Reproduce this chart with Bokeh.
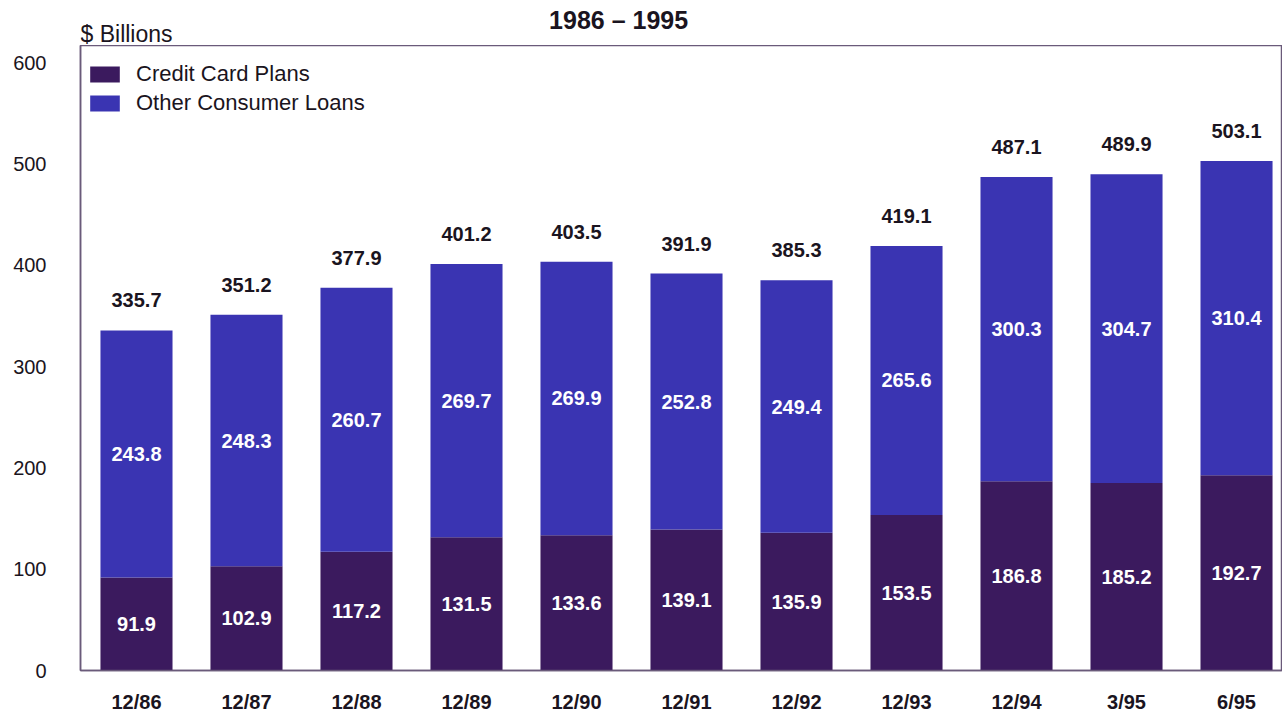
from bokeh.plotting import figure
from bokeh.layouts import column
from bokeh.models import ColumnDataSource, Range1d, FixedTicker, Legend, LegendItem
from bokeh.core.properties import value
from bokeh.embed import file_html
from bokeh.resources import INLINE

periods = ["12/86", "12/87", "12/88", "12/89", "12/90", "12/91", "12/92", "12/93", "12/94", "3/95", "6/95"]
credit_card = [91.9, 102.9, 117.2, 131.5, 133.6, 139.1, 135.9, 153.5, 186.8, 185.2, 192.7]
other_loans = [243.8, 248.3, 260.7, 269.7, 269.9, 252.8, 249.4, 265.6, 300.3, 304.7, 310.4]
totals = [335.7, 351.2, 377.9, 401.2, 403.5, 391.9, 385.3, 419.1, 487.1, 489.9, 503.1]
y_ticks = [0, 100, 200, 300, 400, 500, 600]
chart_title = "1986   \u2013   1995"
unit_label = "$ Billions"

FONT = "Liberation Sans"
PURPLE = "#3b1a5e"
BLUE = "#3a34b2"
INK = "#1a1420"
LINE = "#6a5a7a"

idx = list(range(len(periods)))
src = ColumnDataSource(dict(
    x=idx,
    credit=credit_card,
    other=other_loans,
    top=[c + o for c, o in zip(credit_card, other_loans)],
    credit_mid=[c / 2 for c in credit_card],
    other_mid=[c + o / 2 for c, o in zip(credit_card, other_loans)],
    total=totals,
    credit_lbl=[f"{v:.1f}" for v in credit_card],
    other_lbl=[f"{v:.1f}" for v in other_loans],
    total_lbl=[f"{v:.1f}" for v in totals],
))

x_range = Range1d(-0.509, 10.418)

# header strip (title + unit label)
head = figure(width=1282, height=45, output_backend="svg", toolbar_location=None,
              x_range=x_range, y_range=Range1d(0, 45),
              min_border_left=80, min_border_right=0, min_border_top=0, min_border_bottom=0)
head.axis.visible = False
head.grid.visible = False
head.outline_line_color = None
head.text(x=[-0.509], y=[12], text=[unit_label], text_font=value(FONT),
          text_font_size="23px", text_color=INK, text_baseline="alphabetic", text_align="left")
head.text(x=[4.509], y=[26], text=[chart_title], text_font=value(FONT),
          text_font_size="25px", text_font_style="bold", text_color=INK,
          text_baseline="alphabetic", text_align="center")

p = figure(width=1282, height=670, output_backend="svg", toolbar_location=None,
           x_range=x_range, y_range=Range1d(0, 617),
           min_border_left=80, min_border_right=0, min_border_top=0, min_border_bottom=43)
p.grid.visible = False
p.background_fill_color = "white"
p.border_fill_color = "white"
p.outline_line_color = LINE
p.outline_line_width = 1.5

r1 = p.vbar(x="x", bottom=0, top="credit", width=0.655, source=src,
            fill_color=PURPLE, line_color=None)
r2 = p.vbar(x="x", bottom="credit", top="top", width=0.655, source=src,
            fill_color=BLUE, line_color=None)

p.text(x="x", y="credit_mid", text="credit_lbl", source=src, text_align="center",
       text_baseline="middle", text_color="white", text_font=value(FONT),
       text_font_style="bold", text_font_size="20px")
p.text(x="x", y="other_mid", text="other_lbl", source=src, text_align="center",
       text_baseline="middle", text_color="white", text_font=value(FONT),
       text_font_style="bold", text_font_size="20px")
p.text(x="x", y="total", text="total_lbl", source=src, text_align="center",
       text_baseline="middle", y_offset=-30, text_color=INK, text_font=value(FONT),
       text_font_style="bold", text_font_size="20px")

# axes
p.xaxis.ticker = FixedTicker(ticks=idx)
p.xaxis.major_label_overrides = {i: s for i, s in zip(idx, periods)}
p.xaxis.major_tick_out = 0
p.xaxis.major_tick_in = 0
p.xaxis.minor_tick_line_color = None
p.xaxis.major_label_standoff = 20
p.xaxis.major_label_text_font = FONT
p.xaxis.major_label_text_font_style = "bold"
p.xaxis.major_label_text_font_size = "20px"
p.xaxis.major_label_text_color = INK
p.xaxis.axis_line_color = LINE
p.xaxis.axis_line_width = 1.5

p.yaxis.ticker = FixedTicker(ticks=y_ticks)
p.yaxis.major_tick_out = 0
p.yaxis.major_tick_in = 0
p.yaxis.minor_tick_line_color = None
p.yaxis.major_label_standoff = 34
p.yaxis.major_label_text_font = FONT
p.yaxis.major_label_text_font_size = "20px"
p.yaxis.major_label_text_color = INK
p.yaxis.axis_line_color = LINE
p.yaxis.axis_line_width = 1.5

legend = Legend(items=[LegendItem(label="Credit Card Plans", renderers=[r1]),
                       LegendItem(label="Other Consumer Loans", renderers=[r2])],
                location=(6, 554), orientation="vertical",
                glyph_width=37, glyph_height=20, label_standoff=13, spacing=3,
                padding=10, margin=0, border_line_color=None,
                background_fill_alpha=0,
                label_text_font=FONT, label_text_font_size="22px",
                label_text_color=INK)
p.add_layout(legend, "center")

layout = column(head, p, spacing=0)
open("out.html", "w").write(file_html(layout, INLINE))
